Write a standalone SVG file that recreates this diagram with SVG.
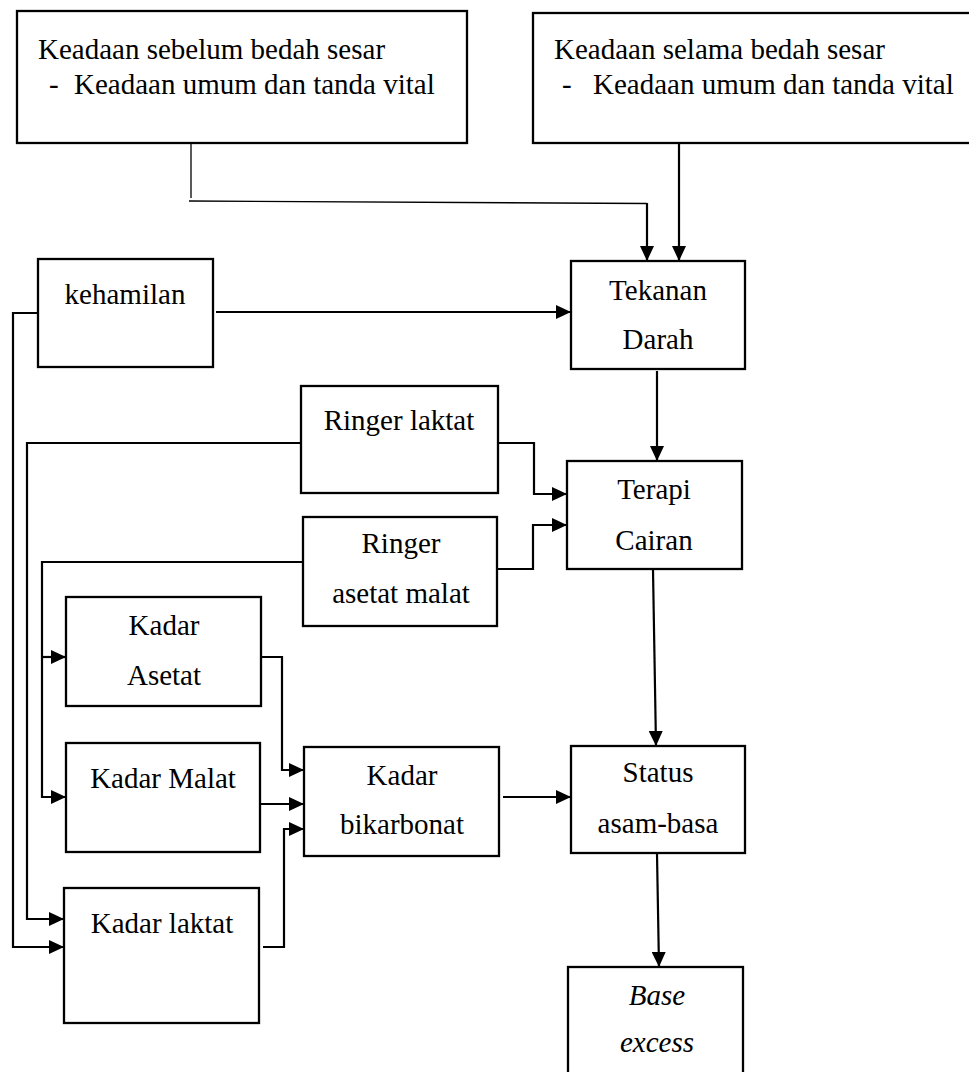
<svg xmlns="http://www.w3.org/2000/svg" width="969" height="1072" viewBox="0 0 969 1072">
<style>
.box{fill:#fff;stroke:#000;stroke-width:2.3}
.t{font-family:"Liberation Serif","Times New Roman",serif;font-size:29px;fill:#000}
.c{text-anchor:middle}
.i{font-style:italic}
.ln{fill:none;stroke:#000;stroke-width:2.2}
.thin{fill:none;stroke:#000;stroke-width:1.3}
</style>
<defs>
<marker id="ah" markerUnits="userSpaceOnUse" markerWidth="15" markerHeight="14" refX="15" refY="7" orient="auto">
<path d="M0,0 L15,7 L0,14 z" fill="#000"/>
</marker>
</defs>
<rect width="969" height="1072" fill="#fff"/>
<g id="connectors">
<line class="thin" x1="191" y1="143" x2="191" y2="198"/>
<line class="thin" x1="189" y1="201" x2="647" y2="203.5"/>
<line class="ln" x1="647" y1="203" x2="647" y2="261" marker-end="url(#ah)"/>
<line class="ln" x1="679" y1="143" x2="679" y2="261" marker-end="url(#ah)"/>
<line class="ln" x1="216" y1="312" x2="571" y2="312" marker-end="url(#ah)"/>
<path class="ln" d="M38,313 H13 V947 H64" marker-end="url(#ah)"/>
<line class="ln" x1="657" y1="371" x2="657" y2="461" marker-end="url(#ah)"/>
<path class="ln" d="M301,443 H27 V919 H64" marker-end="url(#ah)"/>
<path class="ln" d="M498,443 H534 V494 H567" marker-end="url(#ah)"/>
<path class="ln" d="M495,569 H533 V525 H567" marker-end="url(#ah)"/>
<path class="ln" d="M303,562 H42 V797 H66" marker-end="url(#ah)"/>
<path class="ln" d="M42,657 H66" marker-end="url(#ah)"/>
<line class="ln" x1="653" y1="570" x2="656" y2="746" marker-end="url(#ah)"/>
<path class="ln" d="M261,657 H282 V770 H304" marker-end="url(#ah)"/>
<path class="ln" d="M261,804 H304" marker-end="url(#ah)"/>
<path class="ln" d="M263,947 H284 V829 H304" marker-end="url(#ah)"/>
<path class="ln" d="M503,797 H571" marker-end="url(#ah)"/>
<line class="ln" x1="657" y1="854" x2="659" y2="967" marker-end="url(#ah)"/>
</g>
<g id="sebelum">
<rect class="box" x="17" y="11" width="450" height="132"/>
<text class="t" x="38" y="59">Keadaan sebelum bedah sesar</text>
<text class="t" x="49" y="94">-</text>
<text class="t" x="74" y="94">Keadaan umum dan tanda vital</text>
</g>
<g id="selama">
<rect class="box" x="533" y="13" width="445" height="130"/>
<text class="t" x="554" y="59">Keadaan selama bedah sesar</text>
<text class="t" x="562" y="94">-</text>
<text class="t" x="593" y="94">Keadaan umum dan tanda vital</text>
</g>
<g id="kehamilan">
<rect class="box" x="38" y="259" width="175" height="108"/>
<text class="t c" x="125" y="304">kehamilan</text>
</g>
<g id="tekanan">
<rect class="box" x="571" y="261" width="174" height="108"/>
<text class="t c" x="658" y="300">Tekanan</text>
<text class="t c" x="658" y="349">Darah</text>
</g>
<g id="ringer-laktat">
<rect class="box" x="301" y="386" width="197" height="107"/>
<text class="t c" x="399" y="430">Ringer laktat</text>
</g>
<g id="terapi">
<rect class="box" x="567" y="461" width="175" height="108"/>
<text class="t c" x="654" y="499">Terapi</text>
<text class="t c" x="654" y="550">Cairan</text>
</g>
<g id="ringer-asetat">
<rect class="box" x="303" y="517" width="194" height="109"/>
<text class="t c" x="401" y="553">Ringer</text>
<text class="t c" x="401" y="603">asetat malat</text>
</g>
<g id="kadar-asetat">
<rect class="box" x="66" y="597" width="195" height="109"/>
<text class="t c" x="164" y="635">Kadar</text>
<text class="t c" x="164" y="685">Asetat</text>
</g>
<g id="kadar-malat">
<rect class="box" x="66" y="743" width="194" height="109"/>
<text class="t c" x="163" y="788">Kadar Malat</text>
</g>
<g id="kadar-laktat">
<rect class="box" x="64" y="888" width="195" height="135"/>
<text class="t c" x="162" y="933">Kadar laktat</text>
</g>
<g id="bikarbonat">
<rect class="box" x="304" y="747" width="195" height="109"/>
<text class="t c" x="402" y="785">Kadar</text>
<text class="t c" x="402" y="834">bikarbonat</text>
</g>
<g id="status">
<rect class="box" x="571" y="746" width="174" height="107"/>
<text class="t c" x="658" y="782">Status</text>
<text class="t c" x="658" y="833">asam-basa</text>
</g>
<g id="base-excess">
<rect class="box" x="568" y="967" width="175" height="120"/>
<text class="t c i" x="657" y="1005">Base</text>
<text class="t c i" x="657" y="1052">excess</text>
</g>
</svg>
